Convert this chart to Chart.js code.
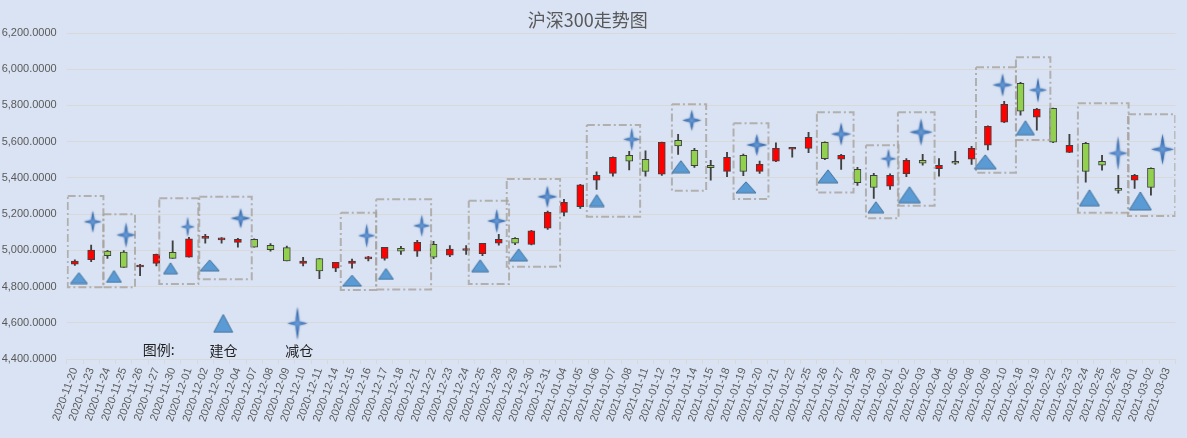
<!DOCTYPE html>
<html><head><meta charset="utf-8">
<script src="https://cdn.jsdelivr.net/npm/chart.js@4.4.0/dist/chart.umd.min.js"></script>
<style>html,body{margin:0;padding:0;background:#DAE3F3;overflow:hidden}#wrap{width:1187px;height:438px}</style>
</head><body><div id="wrap"><canvas id="c" width="1187" height="438"></canvas></div>
<script>
// ---- data ----
const dates = ['2020-11-20','2020-11-23','2020-11-24','2020-11-25','2020-11-26','2020-11-27','2020-11-30',
'2020-12-01','2020-12-02','2020-12-03','2020-12-04','2020-12-07','2020-12-08','2020-12-09','2020-12-10','2020-12-11',
'2020-12-14','2020-12-15','2020-12-16','2020-12-17','2020-12-18','2020-12-21','2020-12-22','2020-12-23','2020-12-24',
'2020-12-25','2020-12-28','2020-12-29','2020-12-30','2020-12-31','2021-01-04','2021-01-05','2021-01-06','2021-01-07',
'2021-01-08','2021-01-11','2021-01-12','2021-01-13','2021-01-14','2021-01-15','2021-01-18','2021-01-19','2021-01-20',
'2021-01-21','2021-01-22','2021-01-25','2021-01-26','2021-01-27','2021-01-28','2021-01-29','2021-02-01','2021-02-02',
'2021-02-03','2021-02-04','2021-02-05','2021-02-08','2021-02-09','2021-02-10','2021-02-18','2021-02-19','2021-02-22',
'2021-02-23','2021-02-24','2021-02-25','2021-02-26','2021-03-01','2021-03-02','2021-03-03'];
const openP  = [4923,4948,4996,4991,4908,4928,4989,4962,5066,5058,5044,5061,5028,5015,4928,4954,4901,4928,4953,4956,
5011,4995,5033,4973,4999,4981,5039,5066,5033,5122,5210,5241,5387,5425,5525,5503,5420,5608,5552,5470,5436,5525,5436,
5492,5558,5563,5597,5503,5447,5414,5354,5423,5497,5451,5492,5503,5580,5707,5922,5735,5784,5541,5591,5492,5342,5387,5453];
const highP  = [4947,5029,5000,4998,4923,4980,5052,5072,5089,5070,5066,5064,5037,5024,4961,4956,4934,4952,4967,5017,
5022,5055,5050,5026,5026,5039,5088,5070,5110,5217,5282,5364,5433,5516,5547,5550,5598,5641,5563,5497,5541,5532,5493,
5594,5569,5652,5599,5530,5458,5425,5423,5506,5530,5506,5547,5574,5687,5823,5928,5784,5786,5641,5597,5525,5414,5420,5455];
const lowP   = [4917,4937,4956,4905,4860,4914,4956,4962,5039,5039,5017,5017,4995,4941,4914,4843,4882,4901,4941,4945,
4978,4967,4954,4965,4978,4970,5028,5031,5030,5116,5190,5232,5337,5410,5444,5410,5414,5530,5458,5387,5407,5412,5425,
5490,5514,5539,5500,5447,5359,5287,5337,5407,5470,5409,5475,5475,5554,5705,5746,5663,5595,5539,5376,5442,5315,5342,5304];
const closeP = [4941,5002,4970,4906,4919,4978,4956,5064,5067,5059,5061,5017,5004,4941,4941,4886,4934,4941,4954,5017,
4995,5044,4962,5007,5000,5039,5061,5039,5108,5210,5265,5362,5414,5514,5492,5436,5596,5576,5467,5456,5514,5436,5475,
5563,5569,5624,5506,5525,5373,5348,5414,5497,5481,5470,5481,5563,5685,5806,5768,5780,5597,5580,5436,5470,5331,5414,5348];

// 建仓 (build) markers: category position and value
const buildIdx = [0.25,2.40,5.87,8.27,17.0,19.08,24.86,27.22,32.01,37.17,41.16,46.19,49.13,51.19,55.84,58.3,62.23,65.35];
const buildVal = [4847,4856,4901,4917,4833,4870,4915,4975,5275,5462,5348,5409,5238,5307,5489,5677,5290,5273];
// 减仓 (reduce) markers
const reduceIdx = [1.1,3.14,6.92,10.17,17.9,21.28,25.88,28.98,34.16,37.84,41.83,47.0,49.9,51.9,56.9,59.07,63.98,66.71];
const reduceVal = [5158,5085,5130,5177,5081,5136,5162,5296,5613,5718,5582,5642,5506,5653,5913,5885,5536,5558];
// dashed boxes: [idxLeft, idxRight, valTop, valBottom]
const boxes = [[-0.44,1.75,5300,4796],[1.75,3.69,5199,4796],[5.18,7.57,5287,4814],[7.63,10.85,5296,4840],
[16.31,18.48,5208,4781],[18.48,21.85,5282,4784],[24.16,26.63,5274,4814],[26.49,29.76,5394,4910],
[31.4,34.67,5692,5186],[36.62,38.72,5806,5329],[40.4,42.54,5701,5283],[45.51,47.76,5762,5320],
[48.52,50.52,5580,5177],[50.48,52.73,5762,5246],[55.27,57.72,6011,5429],[57.72,59.83,6066,5609],
[61.52,64.63,5812,5208],[64.59,67.49,5751,5190]];
// in-plot legend
const legendLabels = ['图例:','建仓','减仓'];
const legendIdx = [5.15,9.11,13.76];
const legendVal = [4454,4445,4445];
const legendMarkIdx = [9.1,13.65];
const legendMarkVal = [4597,4597];
const yMin = 4400, yMax = 6200, yStep = 200;

// ---- marker styles ----
const triW = [17,15,14,19,19,15,17,18,15,18,20,20,16,22,22,18,20,22];
const triH = [11,12,11,11,11,11,12,12,12,12,11,13,11,16,14,14,16,18];
const starW = [18,19,14,20,17,17,19,20,17,19,21,20,16,23,20,18,19,23];
const starH = [22,25,20,20,24,22,24,22,23,21,22,23,20,27,23,25,34,31];

function makeTri(w,h){
  const c=document.createElement('canvas'); c.width=w+2; c.height=h+2;
  const g=c.getContext('2d');
  g.beginPath(); g.moveTo(c.width/2,1); g.lineTo(w+1,h+1); g.lineTo(1,h+1); g.closePath();
  g.fillStyle='#5B9BD5'; g.fill(); g.strokeStyle='#41719C'; g.lineWidth=1; g.stroke();
  return c;
}
function makeStar(w,h){
  const pad=3;
  const c=document.createElement('canvas'); c.width=w+2*pad; c.height=h+2*pad;
  const g=c.getContext('2d');
  const cx=c.width/2, cy=c.height/2, rx=w/2, ry=h/2, ri=Math.min(rx,ry)*0.2;
  g.beginPath(); g.moveTo(cx,cy-ry);
  g.lineTo(cx+ri,cy-ri); g.lineTo(cx+rx,cy);
  g.lineTo(cx+ri,cy+ri); g.lineTo(cx,cy+ry);
  g.lineTo(cx-ri,cy+ri); g.lineTo(cx-rx,cy);
  g.lineTo(cx-ri,cy-ri); g.closePath();
  const gr=g.createRadialGradient(cx,cy,0,cx,cy,Math.max(rx,ry)*0.6);
  gr.addColorStop(0,'#6A9BD7'); gr.addColorStop(0.45,'#4F83C3'); gr.addColorStop(1,'#3E6EAD');
  g.shadowColor='rgba(62,110,173,0.75)'; g.shadowBlur=2;
  g.fillStyle=gr; g.fill();
  return c;
}
const triImgs = triW.map((w,i)=>makeTri(w,triH[i]));
const starImgs = starW.map((w,i)=>makeStar(w,starH[i]));

function fmt(v){
  const s=Number(v).toFixed(4).split('.');
  return s[0].replace(/\B(?=(\d{3})+(?!\d))/g,',')+'.'+s[1];
}

const bgPlugin={id:'bg',beforeDraw(ch){const c=ch.ctx;c.save();c.fillStyle='#DAE3F3';c.fillRect(0,0,ch.width,ch.height);c.restore();}};
const legendTextPlugin={id:'legendText',afterDatasetsDraw(ch){
  const c=ch.ctx, xs=ch.scales.xm, ys=ch.scales.y;
  c.save(); c.fillStyle='#1e1e1e'; c.font='14px "Noto Sans CJK SC"'; c.textAlign='center'; c.textBaseline='middle';
  legendLabels.forEach((t,i)=>c.fillText(t,xs.getPixelForValue(legendIdx[i]),ys.getPixelForValue(legendVal[i])));
  c.restore();
}};

const boxSets = boxes.map(b=>({
  type:'line', xAxisID:'xm', yAxisID:'y', order:4,
  data:[{x:b[0],y:b[2]},{x:b[1],y:b[2]},{x:b[1],y:b[3]},{x:b[0],y:b[3]},{x:b[0],y:b[2]}],
  borderColor:'rgba(168,163,158,0.8)', borderWidth:2, borderDash:[8,3,2,3], pointRadius:0, fill:false, tension:0
}));

new Chart(document.getElementById('c'),{
  type:'bar',
  data:{
    labels:dates,
    datasets:[
      {type:'bar', data:lowP.map((l,i)=>[l,highP[i]]), backgroundColor:'#404040', borderWidth:0, barThickness:1.2, grouped:false, order:6},
      {type:'bar', data:openP.map((o,i)=>[o,closeP[i]]), backgroundColor:closeP.map((c,i)=>c>=openP[i]?'#FF0000':'#92D050'),
        borderColor:'#404040', borderWidth:1, borderSkipped:false, barThickness:7, minBarLength:2, grouped:false, order:5},
      ...boxSets,
      {type:'scatter', xAxisID:'xm', yAxisID:'y', order:2, data:buildIdx.map((x,i)=>({x,y:buildVal[i]})), pointStyle:triImgs, pointRadius:5},
      {type:'scatter', xAxisID:'xm', yAxisID:'y', order:1, data:reduceIdx.map((x,i)=>({x,y:reduceVal[i]})), pointStyle:starImgs, pointRadius:5},
      {type:'scatter', xAxisID:'xm', yAxisID:'y', order:1, data:[{x:legendMarkIdx[0],y:legendMarkVal[0]}], pointStyle:makeTri(19,18), pointRadius:5},
      {type:'scatter', xAxisID:'xm', yAxisID:'y', order:1, data:[{x:legendMarkIdx[1],y:legendMarkVal[1]}], pointStyle:makeStar(20,33), pointRadius:5}
    ]
  },
  options:{
    responsive:false, animation:false, events:[],
    layout:{padding:{left:0,right:11.6,top:0,bottom:0}},
    plugins:{
      legend:{display:false}, tooltip:{enabled:false},
      title:{display:true,text:'沪深300走势图',color:'#595959',font:{family:'"Noto Sans CJK SC"',size:18,weight:'normal'},padding:{top:9,bottom:2.4}}
    },
    scales:{
      x:{type:'category', offset:true,
        grid:{display:true, drawOnChartArea:false, drawTicks:true, tickLength:5, color:'#D9D9D9', offset:true},
        border:{display:true,color:'#D9D9D9'},
        ticks:{autoSkip:false, maxRotation:70, minRotation:70, color:'#595959', font:{family:'"Liberation Sans"',size:11}, padding:2},
        afterFit(s){s.height=79;}
      },
      xm:{type:'linear', min:-0.5, max:67.5, display:false, offset:false, bounds:'data', grace:0, grid:{offset:false}, ticks:{stepSize:1}},
      y:{min:yMin, max:yMax,
        ticks:{stepSize:yStep, callback:fmt, color:'#595959', font:{family:'"Liberation Sans"',size:11}, padding:10},
        grid:{color:'#D9D9D9', drawTicks:false}, border:{display:false},
        afterFit(s){s.width=66.7;}
      }
    }
  },
  plugins:[bgPlugin, legendTextPlugin]
});
</script></body></html>
